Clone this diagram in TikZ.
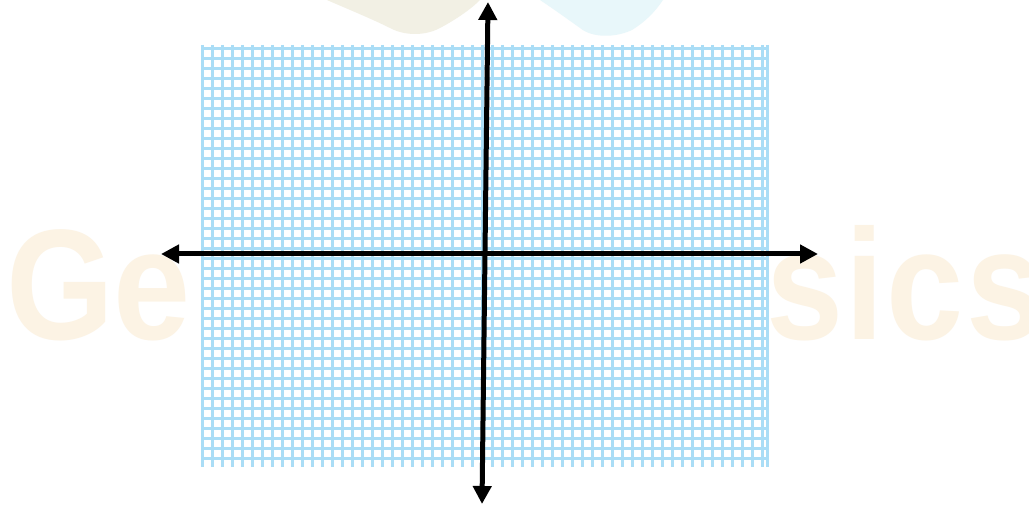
\documentclass[tikz,border=0pt]{standalone}
\usepackage{fontspec}
\setmainfont{Liberation Sans}
\usepackage{graphicx}
\usetikzlibrary{arrows.meta}
\definecolor{wmark}{RGB}{252,243,228}
\definecolor{blobL}{RGB}{242,240,228}
\definecolor{blobR}{RGB}{232,247,250}
\definecolor{gridc}{RGB}{170,221,246}
\tikzset{
  gridline/.style={draw=gridc, line width=2.2bp},
  axis/.style={line width=5bp, black,
    {Triangle[length=18bp,width=18bp]}-{Triangle[length=18bp,width=18bp]}},
  wm/.style={text=wmark, inner sep=0pt, font=\fontsize{158}{158}\selectfont\bfseries}
}
\begin{document}
\begin{tikzpicture}[x=1bp,y=-1bp]
\useasboundingbox[fill=white] (0,0) rectangle (1029,506);
% watermark text
\node[wm, anchor=base west] (ge) at (6,340) {\scalebox{0.88}[1]{Ge}};
\node[wm, anchor=base west] (sics) at (766,340) {\scalebox{0.88}[1]{s\kern3pt i\kern3pt c\kern3pt s}};
% logo remnants
\fill[blobL] (327,0) -- (480,0) .. controls (470,10) and (455,20) .. (440,28)
  .. controls (425,36) and (405,36) .. (390,28) .. controls (370,18) and (345,8) .. (327,0) -- cycle;
\fill[blobR] (540,0) -- (663,0) .. controls (655,12) and (645,22) .. (632,30)
  .. controls (615,38) and (592,38) .. (580,28) .. controls (566,18) and (552,8) .. (540,0) -- cycle;
% grid
\fill[white] (201,45) rectangle (769,467);
\foreach \i in {0,...,56} {
  \draw[gridline] (202.5+\i*10,45) -- (202.5+\i*10,467);
}
\draw[gridline] (767.5,45) -- (767.5,467);
\foreach \j in {0,...,41} {
  \draw[gridline] (201,48.5+\j*10) -- (769,48.5+\j*10);
}
% axes
\coordinate (L) at (161,254);
\coordinate (R) at (818,254);
\coordinate (T) at (488,2);
\coordinate (B) at (482,504);
\draw[axis] (L) -- (R);
\draw[axis] (B) -- (T);
\end{tikzpicture}
\end{document}
